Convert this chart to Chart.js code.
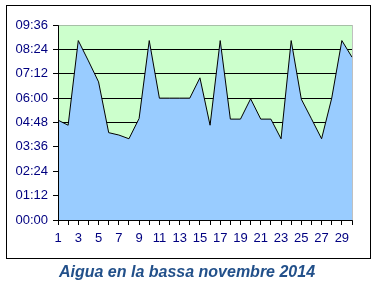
<!DOCTYPE html>
<html>
<head>
<meta charset="utf-8">
<script src="https://cdn.jsdelivr.net/npm/chart.js@4.4.0/dist/chart.umd.min.js"></script>
<style>
  html, body { margin: 0; padding: 0; background: #fff; }
  canvas { display: block; }
</style>
</head>
<body>
<canvas id="chart" width="376" height="285"></canvas>
<script>
// days of the month
const days = ['1', '2', '3', '4', '5', '6', '7', '8', '9', '10',
  '11', '12', '13', '14', '15', '16', '17', '18', '19', '20',
  '21', '22', '23', '24', '25', '26', '27', '28', '29', '30'];

// hours of water in the pond (hh:mm)
const levels = ['04:55', '04:40', '08:50', '07:50', '06:48', '04:18', '04:11', '04:00', '05:00', '08:50',
  '06:00', '06:00', '06:00', '06:00', '07:00', '04:40', '08:50', '04:58', '04:58', '05:58',
  '04:58', '04:58', '04:00', '08:50', '05:57', '04:59', '04:00', '06:00', '08:50', '08:01'];

// y axis: 00:00 .. 09:36 every 01:12
const yMax = '09:36';
const yStep = '01:12';

const chartTitle = 'Aigua en la bassa novembre 2014';

function toMinutes(s) {
  const p = s.split(':');
  return Number(p[0]) * 60 + Number(p[1]);
}

function toHHMM(m) {
  const h = Math.floor(m / 60);
  const mm = Math.round(m % 60);
  return String(h).padStart(2, '0') + ':' + String(mm).padStart(2, '0');
}

const minutes = levels.map(toMinutes);
const navy = '#000080';
const tickFont = { family: '"Liberation Sans", Arial, sans-serif', size: 13 };

// frame, plot background, axes lines and the caption below the frame
const decor = {
  id: 'decor',
  beforeDraw(chart) {
    const ctx = chart.ctx;
    const a = chart.chartArea;
    ctx.save();
    ctx.fillStyle = '#fff';
    ctx.fillRect(0, 0, chart.width, chart.height);
    ctx.strokeStyle = '#000';
    ctx.lineWidth = 1;
    ctx.strokeRect(6.5, 5.5, 364, 253);
    ctx.fillStyle = '#CCFFCC';
    ctx.fillRect(a.left, a.top, a.right - a.left, a.bottom - a.top);
    ctx.restore();
  },
  afterDatasetsDraw(chart) {
    const ctx = chart.ctx;
    const a = chart.chartArea;
    const l = Math.round(a.left) + 0.5;
    const r = Math.round(a.right) + 0.5;
    const t = Math.round(a.top) + 0.5;
    const b = Math.round(a.bottom) + 0.5;
    ctx.save();
    ctx.lineWidth = 1;
    ctx.strokeStyle = '#808080';
    ctx.setLineDash([1, 1]);
    ctx.beginPath();
    ctx.moveTo(l, t);
    ctx.lineTo(r, t);
    ctx.lineTo(r, b);
    ctx.stroke();
    ctx.setLineDash([]);
    ctx.strokeStyle = '#000';
    ctx.beginPath();
    ctx.moveTo(l, t);
    ctx.lineTo(l, b);
    ctx.lineTo(r, b);
    ctx.stroke();
    ctx.fillStyle = '#22508A';
    ctx.font = 'italic bold 16px "Liberation Sans", Arial, sans-serif';
    ctx.textAlign = 'center';
    ctx.textBaseline = 'alphabetic';
    ctx.fillText(chartTitle, 187, 277);
    ctx.restore();
  }
};

new Chart(document.getElementById('chart'), {
  type: 'line',
  data: {
    labels: days,
    datasets: [{
      data: minutes,
      fill: 'origin',
      backgroundColor: '#99CCFF',
      borderColor: '#000',
      borderWidth: 1,
      pointRadius: 0,
      tension: 0
    }]
  },
  options: {
    responsive: false,
    animation: false,
    layout: { padding: { left: 0, top: 25, right: 24, bottom: 35 } },
    plugins: { legend: { display: false }, tooltip: { enabled: false } },
    scales: {
      x: {
        offset: false,
        grid: { drawOnChartArea: false, drawTicks: true, tickLength: 5, color: '#000' },
        border: { color: '#000' },
        ticks: {
          autoSkip: false,
          maxRotation: 0,
          color: navy,
          font: tickFont,
          padding: 6,
          callback: (v, i) => (i % 2 === 0 ? days[i] : '')
        },
        afterFit: s => { s.height = 30; }
      },
      y: {
        min: 0,
        max: toMinutes(yMax),
        grid: {
          color: c => (c.tick && c.tick.value === toMinutes(yMax) ? 'rgba(0,0,0,0)' : '#000'),
          tickColor: '#000',
          tickLength: 5
        },
        border: { color: '#000' },
        ticks: {
          stepSize: toMinutes(yStep),
          color: navy,
          font: tickFont,
          padding: 5,
          callback: v => toHHMM(v)
        },
        afterFit: s => { s.width = 58; }
      }
    }
  },
  plugins: [decor]
});
</script>
</body>
</html>
